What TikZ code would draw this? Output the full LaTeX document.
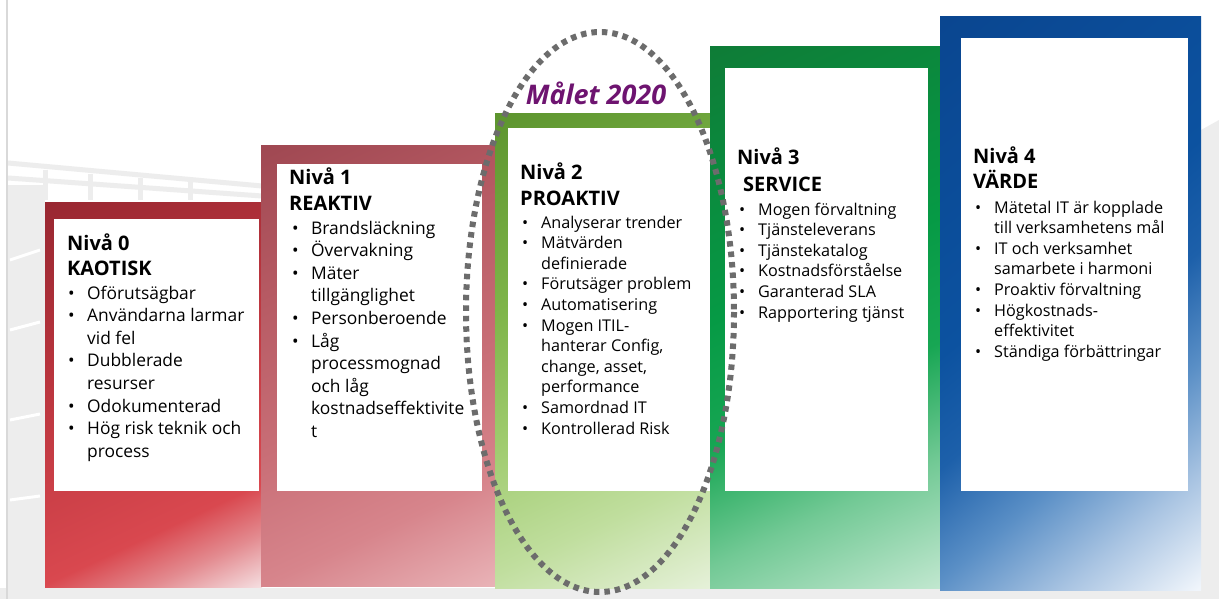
\documentclass[tikz,border=0pt]{standalone}
\usepackage{fontspec}
\setmainfont{Open Sans}
\definecolor{r0a}{HTML}{962630}
\definecolor{r0b}{HTML}{B8343D}
\definecolor{r0c}{HTML}{D9484F}
\definecolor{r0d}{HTML}{E38B90}
\definecolor{r0e}{HTML}{F7E8EA}
\definecolor{r1a}{HTML}{9D4650}
\definecolor{r1b}{HTML}{B65A63}
\definecolor{r1c}{HTML}{C96F77}
\definecolor{r1d}{HTML}{D7858C}
\definecolor{r1e}{HTML}{EAB6BA}
\definecolor{g2a}{HTML}{5A922C}
\definecolor{g2b}{HTML}{7FB54A}
\definecolor{g2c}{HTML}{9FCB6E}
\definecolor{g2d}{HTML}{C0DE9E}
\definecolor{g2e}{HTML}{E8F2DD}
\definecolor{g3a}{HTML}{0F7A36}
\definecolor{g3b}{HTML}{069A45}
\definecolor{g3c}{HTML}{17A653}
\definecolor{g3d}{HTML}{72C995}
\definecolor{g3e}{HTML}{C6E9D3}
\definecolor{b4a}{HTML}{0A4690}
\definecolor{b4b}{HTML}{0C52A0}
\definecolor{b4c}{HTML}{1D60AA}
\definecolor{b4d}{HTML}{5A8FC6}
\definecolor{b4e}{HTML}{A9C4E2}
\definecolor{b4f}{HTML}{F0F5FB}
\definecolor{goalpurple}{HTML}{6E1470}
\definecolor{ringgrey}{HTML}{6C6C6C}
\definecolor{bggrey}{HTML}{EDEDED}
\pgfdeclareverticalshading{shzero}{100bp}{color(0bp)=(r0e); color(16bp)=(r0e); color(24bp)=(r0d); color(31bp)=(r0c); color(60bp)=(r0b); color(85bp)=(r0a); color(100bp)=(r0a)}
\pgfdeclareverticalshading{shone}{100bp}{color(0bp)=(r1e); color(16bp)=(r1e); color(30bp)=(r1d); color(45bp)=(r1c); color(65bp)=(r1b); color(85bp)=(r1a); color(100bp)=(r1a)}
\pgfdeclareverticalshading{shtwo}{100bp}{color(0bp)=(g2e); color(16bp)=(g2e); color(30bp)=(g2d); color(45bp)=(g2c); color(60bp)=(g2b); color(85bp)=(g2a); color(100bp)=(g2a)}
\pgfdeclareverticalshading{shthree}{100bp}{color(0bp)=(g3e); color(16bp)=(g3e); color(30bp)=(g3d); color(42bp)=(g3c); color(55bp)=(g3b); color(85bp)=(g3a); color(100bp)=(g3a)}
\pgfdeclareverticalshading{shfour}{100bp}{color(0bp)=(b4f); color(15bp)=(b4f); color(25bp)=(b4e); color(35bp)=(b4d); color(45bp)=(b4c); color(55bp)=(b4b); color(85bp)=(b4a); color(100bp)=(b4a)}
\newcommand{\bli}[1]{\makebox[19pt][l]{\textbullet}#1}
\newcommand{\blc}[1]{\hspace*{19pt}#1}
\begin{document}
\begin{tikzpicture}[x=1pt,y=-1pt,
  headtext/.style={anchor=base west, inner sep=0pt, align=left,
    font=\fontsize{20}{25}\selectfont\bfseries},
  biglist/.style={anchor=base west, inner sep=0pt, align=left,
    font=\fontsize{17.4}{22.6}\selectfont},
  smalllist/.style={anchor=base west, inner sep=0pt, align=left,
    font=\fontsize{16.2}{20.6}\selectfont},
  whitebox/.style={fill=white},
  ring/.style={draw=ringgrey, line width=6pt, dash pattern=on 5.5pt off 5pt},
  bgshape/.style={fill=bggrey},
  bgline/.style={draw=bggrey, line width=5pt}]
\path[use as bounding box] (0,0) rectangle (1219,599);
\fill[white] (0,0) rectangle (1219,599);
% faint background
\fill[bggrey] (0,588) rectangle (1219,599);
\fill[bgshape] (8,185) rectangle (45,588);
\fill[bgshape] (1201,130) -- (1219,120) -- (1219,588) -- (1201,588) -- cycle;
\draw[bgline] (8,163) -- (262,186);
\draw[bgline] (8,178) -- (262,196);
\draw[bgline] (45,170) -- (45,200);
\draw[bgline] (90,174) -- (90,200);
\draw[bgline] (140,178) -- (140,200);
\draw[bgline] (190,182) -- (190,200);
\draw[white, line width=3pt] (10,260) -- (40,250);
\draw[white, line width=3pt] (10,330) -- (40,322);
\draw[white, line width=3pt] (10,420) -- (40,414);
\draw[white, line width=3pt] (10,500) -- (40,496);
\draw[draw=black!15, line width=1.5pt] (7,0) -- (7,599);
% columns
\shade[shading=shzero, shading angle=25] (45,203) rectangle (262,587);
\fill[whitebox] (54,219) rectangle (259,491);
\shade[shading=shone, shading angle=25] (261,146) rectangle (497,586);
\fill[whitebox] (277,164) rectangle (482,491);
\shade[shading=shtwo, shading angle=25] (495,114) rectangle (711,588);
\fill[whitebox] (508,128) rectangle (711,491);
\shade[shading=shthree, shading angle=25] (710,47) rectangle (940,588);
\fill[whitebox] (725,68) rectangle (928,491);
\shade[shading=shfour, shading angle=40] (940,17) rectangle (1201,590);
\fill[whitebox] (961,38) rectangle (1188,491);
% texts (anchor = baseline of the last line)
\node[headtext] (h0) at (67,275) {Nivå 0\\KAOTISK};
\node[biglist] (l0) at (68,457.2) {\bli{Oförutsägbar}\\\bli{Användarna larmar}\\\blc{vid fel}\\\bli{Dubblerade}\\\blc{resurser}\\\bli{Odokumenterad}\\\bli{Hög risk teknik och}\\\blc{process}};
\node[headtext, font=\fontsize{20}{25.5}\selectfont\bfseries] (h1) at (289,210.5) {Nivå 1\\REAKTIV};
\node[biglist] (l1) at (292,437.4) {\bli{Brandsläckning}\\\bli{Övervakning}\\\bli{Mäter}\\\blc{tillgänglighet}\\\bli{Personberoende}\\\bli{Låg}\\\blc{processmognad}\\\blc{och låg}\\\blc{kostnadseffektivite}\\\blc{t}};
\node[headtext] (h2) at (520,205) {Nivå 2\\PROAKTIV};
\node[smalllist] (l2) at (522,434) {\bli{Analyserar trender}\\\bli{Mätvärden}\\\blc{definierade}\\\bli{Förutsäger problem}\\\bli{Automatisering}\\\bli{Mogen ITIL-}\\\blc{hanterar Config,}\\\blc{change, asset,}\\\blc{performance}\\\bli{Samordnad IT}\\\bli{Kontrollerad Risk}};
\node[headtext, font=\fontsize{20}{27}\selectfont\bfseries] (h3) at (737,192) {Nivå 3\\\hspace*{6pt}SERVICE};
\node[smalllist] (l3) at (739,318) {\bli{Mogen förvaltning}\\\bli{Tjänsteleverans}\\\bli{Tjänstekatalog}\\\bli{Kostnadsförståelse}\\\bli{Garanterad SLA}\\\bli{Rapportering tjänst}};
\node[headtext] (h4) at (973,189) {Nivå 4\\VÄRDE};
\node[smalllist] (l4) at (975,357.2) {\bli{Mätetal IT är kopplade}\\\blc{till verksamhetens mål}\\\bli{IT och verksamhet}\\\blc{samarbete i harmoni}\\\bli{Proaktiv förvaltning}\\\bli{Högkostnads-}\\\blc{effektivitet}\\\bli{Ständiga förbättringar}};
\node[anchor=base, inner sep=0pt, text=goalpurple, font=\fontsize{27}{30}\selectfont\bfseries\itshape] (goal) at (596,105) {Målet 2020};
% goal ring
\draw[ring] (600,312) ellipse [x radius=134, y radius=280];
\end{tikzpicture}
\end{document}
